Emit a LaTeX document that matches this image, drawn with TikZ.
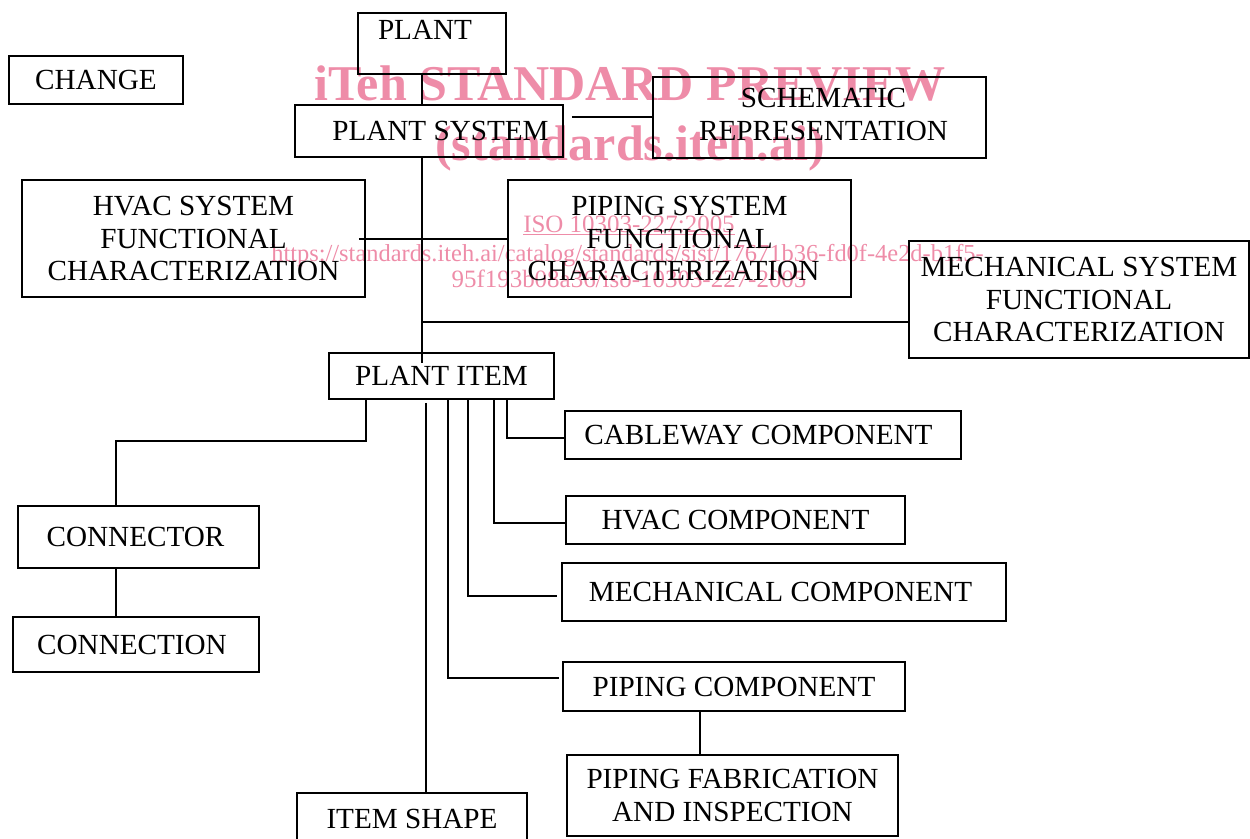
\documentclass[tikz,border=0pt]{standalone}
\usepackage{fontspec}
\setmainfont{Liberation Serif}
\definecolor{wmpink}{RGB}{238,140,168}

\begin{document}
\begin{tikzpicture}[
		box/.style={draw, line width=1pt, inner sep=0pt, align=center,
			font=\fontsize{16.6}{18.6}\selectfont},
		link/.style={line width=1pt},
		wmbig/.style={text=wmpink, anchor=base, font=\fontsize{28.5}{30}\selectfont\bfseries},
		wmsmall/.style={text=wmpink, anchor=base, font=\fontsize{14.2}{16}\selectfont}]

	\useasboundingbox (0,0) rectangle (25,-16.76);

	% Watermark
	\node[wmbig] (wmtitle) at (12.6,-2.0) {iTeh STANDARD PREVIEW};
	\node[wmbig] (wmsite) at (12.6,-3.2) {(standards.iteh.ai)};
	\node[wmsmall] (wmiso) at (12.58,-4.64) {\underline{ISO 10303-227:2005}};
	\node[wmsmall, font=\fontsize{13.9}{16}\selectfont] (wmurl) at (12.55,-5.22)
		{https://standards.iteh.ai/catalog/standards/sist/17671b36-fd0f-4e2d-b1f5-};
	\node[wmsmall] (wmdoc) at (12.58,-5.74) {95f193b08a36/iso-10303-227-2005};

	% Top row
	\node[box, minimum width=2.96cm, minimum height=1.22cm] (plant) at (8.64,-0.87)
		{\raisebox{0.27cm}[\height][\depth]{PLANT}\hspace*{0.28cm}};
	\node[box, minimum width=3.48cm, minimum height=0.96cm] (change) at (1.92,-1.6) {CHANGE};
	\node[box, minimum width=5.36cm, minimum height=1.04cm] (plantsys) at (8.58,-2.62)
		{\hspace*{0.46cm}PLANT SYSTEM};
	\node[box, minimum width=6.66cm, minimum height=1.62cm] (schem) at (16.39,-2.35)
		{\hspace*{0.16cm}\begin{tabular}{@{}c@{}}SCHEMATIC\\REPRESENTATION\end{tabular}};

	% System characterizations
	\node[box, minimum width=6.86cm, minimum height=2.34cm] (hvacsys) at (3.87,-4.77)
		{HVAC SYSTEM\\FUNCTIONAL\\CHARACTERIZATION};
	\node[box, minimum width=6.86cm, minimum height=2.34cm] (pipingsys) at (13.59,-4.77)
		{PIPING SYSTEM\\FUNCTIONAL\\CHARACTERIZATION\hspace*{0.24cm}};
	\node[box, minimum width=6.8cm, minimum height=2.34cm] (mechsys) at (21.58,-5.99)
		{MECHANICAL SYSTEM\\FUNCTIONAL\\CHARACTERIZATION};

	% Plant item and its parts
	\node[box, minimum width=4.5cm, minimum height=0.92cm] (plantitem) at (8.83,-7.52) {PLANT ITEM};
	\node[box, minimum width=7.92cm, minimum height=0.96cm] (cableway) at (15.26,-8.7)
		{CABLEWAY COMPONENT\hspace*{0.18cm}};
	\node[box, minimum width=6.78cm, minimum height=0.96cm] (hvaccomp) at (14.71,-10.4) {HVAC COMPONENT};
	\node[box, minimum width=8.88cm, minimum height=1.16cm] (mechcomp) at (15.68,-11.84)
		{MECHANICAL COMPONENT\hspace*{0.14cm}};
	\node[box, minimum width=6.84cm, minimum height=0.98cm] (pipingcomp) at (14.68,-13.73) {PIPING COMPONENT};
	\node[box, minimum width=6.62cm, minimum height=1.62cm] (pipingfab) at (14.65,-15.91)
		{PIPING FABRICATION\\AND INSPECTION};
	\node[box, minimum width=4.6cm, minimum height=1.04cm] (itemshape) at (8.24,-16.38) {ITEM SHAPE};

	% Connector boxes
	\node[box, minimum width=4.82cm, minimum height=1.24cm] (connector) at (2.77,-10.74)
		{CONNECTOR\hspace*{0.12cm}};
	\node[box, minimum width=4.92cm, minimum height=1.1cm] (connection) at (2.72,-12.89)
		{CONNECTION\hspace*{0.16cm}};

	% Trunk below plant system
	\draw[link] (8.44,0 |- plant.south) -- (8.44,0 |- plantsys.north);
	\draw[link] ([xshift=0.16cm]plantsys.east |- 0,-2.34) -- (schem.west |- 0,-2.34);
	\draw[link] (8.44,0 |- plantsys.south) -- ([yshift=-0.22cm]8.44,0 |- plantitem.north);
	\draw[link] ([xshift=-0.14cm,yshift=-0.01cm]hvacsys.east) -- ([yshift=-0.01cm]pipingsys.west);
	\draw[link] (8.44,-6.44) -- (mechsys.west |- 0,-6.44);

	% Branches below plant item
	\draw[link] (7.32,0 |- plantitem.south) |- (2.32,-8.82) -- (2.32,0 |- connector.north);
	\draw[link] (2.32,0 |- connector.south) -- (2.32,0 |- connection.north);
	\draw[link] ([yshift=-0.06cm]8.52,0 |- plantitem.south) -- (8.52,0 |- itemshape.north);
	\draw[link] (8.96,0 |- plantitem.south) |- ([xshift=-0.06cm,yshift=0.17cm]pipingcomp.west);
	\draw[link] (9.36,0 |- plantitem.south) |- ([xshift=-0.08cm,yshift=-0.08cm]mechcomp.west);
	\draw[link] (9.88,0 |- plantitem.south) |- ([yshift=-0.06cm]hvaccomp.west);
	\draw[link] (10.14,0 |- plantitem.south) |- ([yshift=-0.06cm]cableway.west);
	\draw[link] (14,0 |- pipingcomp.south) -- (14,0 |- pipingfab.north);
\end{tikzpicture}
\end{document}
